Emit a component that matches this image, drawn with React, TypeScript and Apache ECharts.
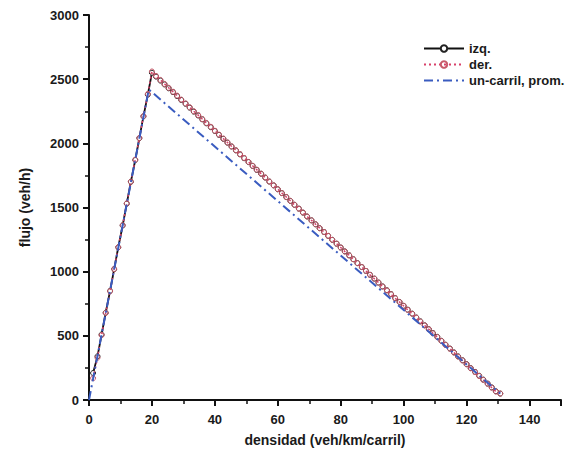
import React, { useEffect, useRef } from "react";
import * as echarts from "echarts";

// densidad (veh/km/carril) sampled points shared by izq. and der.
const densidad = [
  1.3, 2.7, 4.0, 5.3, 6.7, 8.0, 9.3, 10.7, 12.0, 13.3, 14.7, 16.0, 17.3, 18.7,
  20.0, 21.3, 22.7, 24.0, 25.3, 26.7, 28.0, 29.3, 30.7, 32.0, 33.3, 34.7, 36.0,
  37.3, 38.7, 40.0, 41.3, 42.7, 44.0, 45.3, 46.7, 48.0, 49.3, 50.7, 52.0, 53.3,
  54.7, 56.0, 57.3, 58.7, 60.0, 61.3, 62.7, 64.0, 65.3, 66.7, 68.0, 69.3, 70.7,
  72.0, 73.3, 74.7, 76.0, 77.3, 78.7, 80.0, 81.3, 82.7, 84.0, 85.3, 86.7, 88.0,
  89.3, 90.7, 92.0, 93.3, 94.7, 96.0, 97.3, 98.7, 100.0, 101.3, 102.7, 104.0,
  105.3, 106.7, 108.0, 109.3, 110.7, 112.0, 113.3, 114.7, 116.0, 117.3, 118.7,
  120.0, 121.3, 122.7, 124.0, 125.3, 126.7, 128.0, 129.3, 130.7,
];

const flujoIzq = [
  210, 340, 510, 680, 850, 1020, 1190, 1360, 1530, 1700, 1870, 2040, 2210, 2380,
  2550, 2520, 2489, 2459, 2429, 2399, 2368, 2338, 2308, 2278, 2247, 2217, 2187,
  2156, 2126, 2096, 2066, 2035, 2005, 1975, 1945, 1914, 1884, 1854, 1824, 1793,
  1763, 1733, 1702, 1672, 1642, 1612, 1581, 1551, 1521, 1491, 1460, 1430, 1400,
  1369, 1339, 1309, 1279, 1248, 1218, 1188, 1158, 1127, 1097, 1067, 1036, 1006,
  976, 946, 915, 885, 855, 825, 794, 764, 734, 704, 673, 643, 613, 582, 552,
  522, 492, 461, 431, 401, 371, 340, 310, 280, 249, 219, 189, 159, 128, 98, 68,
  50,
];

const flujoDer = [
  170, 330, 505, 678, 848, 1020, 1190, 1362, 1532, 1702, 1872, 2042, 2212, 2385,
  2560, 2525, 2494, 2463, 2433, 2402, 2372, 2341, 2311, 2281, 2250, 2220, 2189,
  2159, 2129, 2098, 2068, 2037, 2007, 1977, 1946, 1916, 1886, 1855, 1825, 1795,
  1764, 1734, 1703, 1673, 1643, 1612, 1582, 1552, 1521, 1491, 1461, 1430, 1400,
  1370, 1339, 1309, 1279, 1248, 1218, 1188, 1157, 1127, 1097, 1066, 1036, 1006,
  975, 945, 915, 884, 854, 824, 793, 763, 733, 702, 672, 642, 611, 581, 551,
  520, 490, 460, 429, 399, 369, 338, 308, 278, 247, 217, 187, 156, 126, 96, 66,
  50,
];

const densidadProm = [0, 19.0, 130.7];
const flujoProm = [0, 2420, 50];

const xTicks = [0, 20, 40, 60, 80, 100, 120, 140];
const yTicks = [0, 500, 1000, 1500, 2000, 2500, 3000];

const FONT = "'Liberation Sans', Arial, Helvetica, sans-serif";
const TXT = "#1a1a1a";

export default function App() {
  const ref = useRef<HTMLDivElement>(null);
  useEffect(() => {
    if (!ref.current) return;
    const chart = echarts.init(ref.current, undefined, { renderer: "svg" });
    const pairs = (xs: number[], ys: number[]) => xs.map((x, i) => [x, ys[i]]);
    chart.setOption({
      animation: false,
      backgroundColor: "#ffffff",
      textStyle: { fontFamily: FONT },
      grid: { left: 89, right: 20, top: 15, bottom: 60, containLabel: false },
      legend: {
        orient: "vertical",
        left: 418,
        top: 37,
        itemWidth: 40,
        itemHeight: 8,
        itemGap: 3,
        textStyle: { fontFamily: FONT, fontSize: 13, fontWeight: "bold", color: TXT },
        data: [
          { name: "izq." },
          { name: "der." },
          { name: "un-carril, prom.", itemStyle: { opacity: 0 } },
        ],
      },
      xAxis: {
        type: "value",
        min: xTicks[0],
        max: 150,
        interval: 20,
        name: "densidad (veh/km/carril)",
        nameLocation: "middle",
        nameGap: 33,
        nameTextStyle: { fontFamily: FONT, fontSize: 14, fontWeight: "bold", color: TXT },
        axisLine: { show: true, lineStyle: { color: "#111", width: 2 } },
        axisTick: { show: true, inside: false, length: 6, lineStyle: { color: "#111", width: 2 } },
        minorTick: { show: true, splitNumber: 2, length: 4, lineStyle: { color: "#111", width: 1.5 } },
        axisLabel: {
          margin: 13,
          fontFamily: FONT,
          fontSize: 13,
          fontWeight: "bold",
          color: TXT,
          formatter: (v: number) => (xTicks.includes(v) ? String(v) : ""),
        },
        splitLine: { show: false },
      },
      yAxis: {
        type: "value",
        min: yTicks[0],
        max: 3000,
        interval: 500,
        name: "flujo (veh/h)",
        nameLocation: "middle",
        nameGap: 57,
        nameTextStyle: { fontFamily: FONT, fontSize: 14, fontWeight: "bold", color: TXT },
        axisLine: { show: true, lineStyle: { color: "#111", width: 2 } },
        axisTick: { show: true, inside: false, length: 6, lineStyle: { color: "#111", width: 2 } },
        minorTick: { show: true, splitNumber: 2, length: 4, lineStyle: { color: "#111", width: 1.5 } },
        axisLabel: {
          margin: 10,
          fontFamily: FONT,
          fontSize: 13,
          fontWeight: "bold",
          color: TXT,
          formatter: (v: number) => (yTicks.includes(v) ? String(v) : ""),
        },
        splitLine: { show: false },
      },
      series: [
        {
          name: "izq.",
          type: "line",
          z: 2,
          data: pairs(densidad, flujoIzq),
          symbol: "circle",
          symbolSize: 5,
          itemStyle: { color: "#ffffff", borderColor: "#222", borderWidth: 1 },
          lineStyle: { color: "#111", width: 1.8 },
          color: "#111",
        },
        {
          name: "der.",
          type: "line",
          z: 3,
          data: pairs(densidad, flujoDer),
          symbol: "circle",
          symbolSize: 5,
          itemStyle: { color: "rgba(255,255,255,0)", borderColor: "#c85a6a", borderWidth: 1 },
          lineStyle: { color: "#d8406a", width: 1.5, type: [2, 3] },
          color: "#d8406a",
        },
        {
          name: "un-carril, prom.",
          type: "line",
          z: 4,
          data: pairs(densidadProm, flujoProm),
          symbol: "none",
          lineStyle: { color: "#3a5cc0", width: 2, type: [9, 4, 2, 4] },
          color: "#3a5cc0",
        },
      ],
    });
    return () => chart.dispose();
  }, []);
  return (
    <div
      ref={ref}
      style={{ position: "absolute", left: 0, top: 0, width: 581, height: 460 }}
    />
  );
}
